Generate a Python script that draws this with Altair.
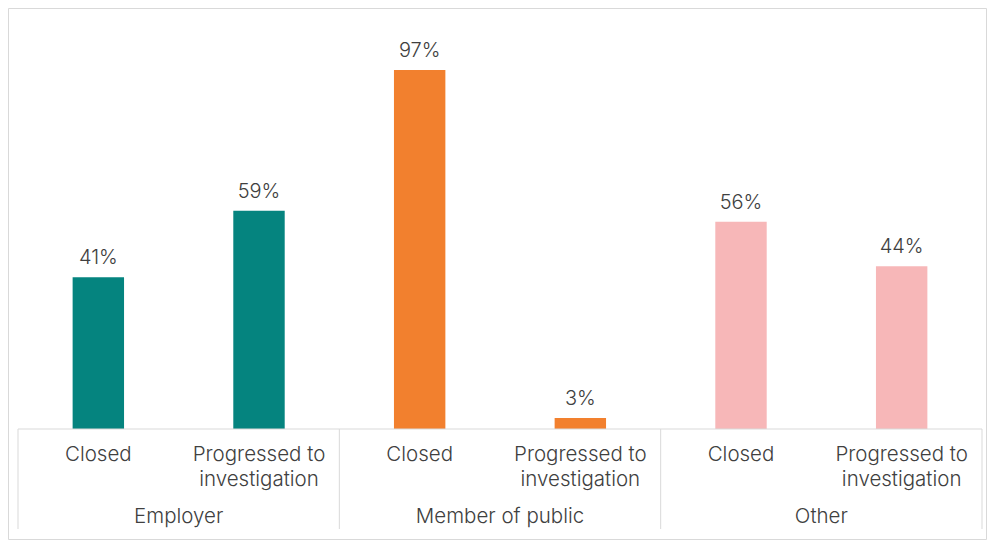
import altair as alt
import pandas as pd

groups = ["Employer", "Member of public", "Other"]
categories = ["Closed", "Progressed to\ninvestigation"]
values = [41, 59, 97, 3, 56, 44]
colors = ["#05847F", "#F2802E", "#F7B7B8"]

W, H = 964, 370
PL, PT, PR, PB = 10, 51, 5, 111
FONT = "Inter"
FW = 300
TXT = "#404040"
GRID = "#D9D9D9"

rows = []
for gi, g in enumerate(groups):
    for ci, c in enumerate(categories):
        i = gi * len(categories) + ci
        rows.append({"group": g, "cat": c, "value": values[i],
                     "label": f"{values[i]}%",
                     "x0": i + 0.34, "x1": i + 0.66, "xc": i + 0.5})
df = pd.DataFrame(rows)

grp_df = pd.DataFrame({"group": groups,
                       "xc": [gi * 2 + 1 for gi in range(len(groups))]})
sep_df = pd.DataFrame({"xb": [0, 2, 4, 6]})
base_df = pd.DataFrame({"a": [0], "b": [6], "y": [0]})

xs = alt.Scale(domain=[0, 6], nice=False, zero=False)
ys = alt.Scale(domain=[0, 100], nice=False)

bars = alt.Chart(df).mark_bar().encode(
    x=alt.X("x0:Q", scale=xs, axis=None),
    x2="x1:Q",
    y=alt.Y("value:Q", scale=ys, axis=None),
    y2=alt.datum(0),
    color=alt.Color("group:N", scale=alt.Scale(domain=groups, range=colors), legend=None),
)

vals = alt.Chart(df).mark_text(font=FONT, fontWeight=FW, fontSize=20, color=TXT,
                               baseline="bottom", dy=-9).encode(
    x=alt.X("xc:Q", scale=xs),
    y=alt.Y("value:Q", scale=ys),
    text="label:N",
)

catlab = alt.Chart(df).mark_text(font=FONT, fontWeight=FW, fontSize=20.5, color=TXT, baseline="middle",
                                 lineBreak="\n", lineHeight=25).encode(
    x=alt.X("xc:Q", scale=xs),
    y=alt.value(H + 26),
    text="cat:N",
)

grplab = alt.Chart(grp_df).mark_text(font=FONT, fontWeight=FW, fontSize=20.5, color=TXT,
                                     baseline="middle").encode(
    x=alt.X("xc:Q", scale=xs),
    y=alt.value(H + 88),
    text="group:N",
)

seps = alt.Chart(sep_df).mark_rule(color=GRID, strokeWidth=1).encode(
    x=alt.X("xb:Q", scale=xs),
    y=alt.value(H),
    y2=alt.value(H + 100),
)

baseline = alt.Chart(base_df).mark_rule(color=GRID, strokeWidth=1).encode(
    x=alt.X("a:Q", scale=xs),
    x2="b:Q",
    y=alt.Y("y:Q", scale=ys),
)

border = alt.Chart(base_df).mark_rect(fill=None, stroke=GRID, strokeWidth=1).encode(
    x=alt.value(-PL + 0.5),
    x2=alt.value(W + PR - 0.5),
    y=alt.value(-PT + 0.5),
    y2=alt.value(H + PB - 0.5),
)

chart = alt.layer(bars, baseline, seps, vals, catlab, grplab, border).properties(
    width=W, height=H,
    autosize=alt.AutoSizeParams(type="none"),
    padding={"left": PL, "top": PT, "right": PR, "bottom": PB},
    background="white",
).configure_view(strokeWidth=0, stroke="transparent")

chart.save("out.html", embed_options={"renderer": "svg", "actions": False})
